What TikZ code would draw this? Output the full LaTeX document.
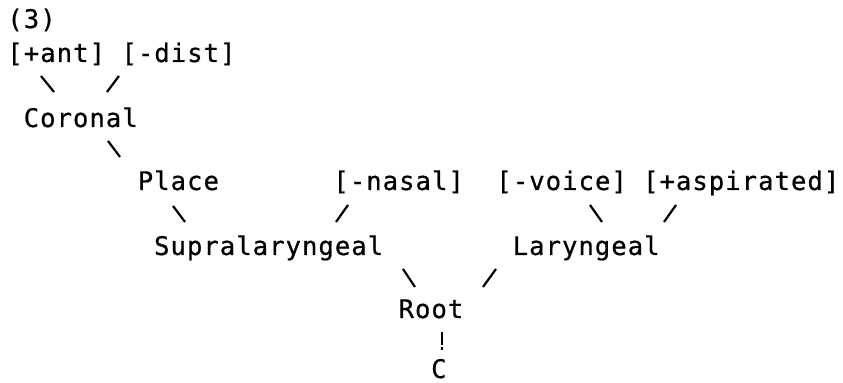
\documentclass[tikz,border=0pt]{standalone}
\usepackage{fontspec}
\newfontfamily\dm{DejaVu Sans Mono}[LetterSpace=4,FakeBold=0.6]
\begin{document}
\begin{tikzpicture}[x=0.5pt,y=-0.5pt,
  lbl/.style={anchor=base west,inner sep=0pt,font=\dm\fontsize{12.8}{15}\selectfont},
  link/.style={line width=1.1pt,black}]
\useasboundingbox (0,0) rectangle (843,383);
% labels
\node[lbl] (num) at (7,28) {(3)};
\node[lbl] (ant) at (7,62) {[+ant]};
\node[lbl] (dist) at (121.1,62) {[-dist]};
\node[lbl] (cor) at (23.3,127) {Coronal};
\node[lbl] (place) at (137.4,190) {Place};
\node[lbl] (nasal) at (333,190) {[-nasal]};
\node[lbl] (voice) at (496,190) {[-voice]};
\node[lbl] (asp) at (642.7,190) {[+aspirated]};
\node[lbl] (supra) at (153.7,255) {Supralaryngeal};
\node[lbl] (lar) at (512.3,255) {Laryngeal};
\node[lbl] (root) at (398.2,318) {Root};
\node[lbl] (cc) at (430.8,378) {C};
% connectors
\draw[link] ([shift={(34,14)}]ant.base west) -- ([shift={(30.7,-35)}]cor.base west);
\draw[link] ([shift={(-2.1,14)}]dist.base west) -- ([shift={(83.7,-35)}]cor.base west);
\draw[link] ([shift={(84.7,14)}]cor.base west) -- ([shift={(-17.4,-33)}]place.base west);
\draw[link] ([shift={(35.6,16)}]place.base west) -- ([shift={(31.3,-33)}]supra.base west);
\draw[link] ([shift={(15,15)}]nasal.base west) -- ([shift={(182.3,-33)}]supra.base west);
\draw[link] ([shift={(94,15)}]voice.base west) -- ([shift={(89.7,-33)}]lar.base west);
\draw[link] ([shift={(33.3,15)}]asp.base west) -- ([shift={(151.7,-33)}]lar.base west);
\draw[link] ([shift={(249.3,14)}]supra.base west) -- ([shift={(16.8,-31)}]root.base west);
\draw[link] ([shift={(-16.3,14)}]lar.base west) -- ([shift={(84.8,-31)}]root.base west);
\draw[link,dash pattern=on 6.5pt off 1.2pt on 1.5pt off 10pt] ([shift={(43.8,14)}]root.base west) -- ([shift={(11.2,-28)}]cc.base west);
\end{tikzpicture}
\end{document}
